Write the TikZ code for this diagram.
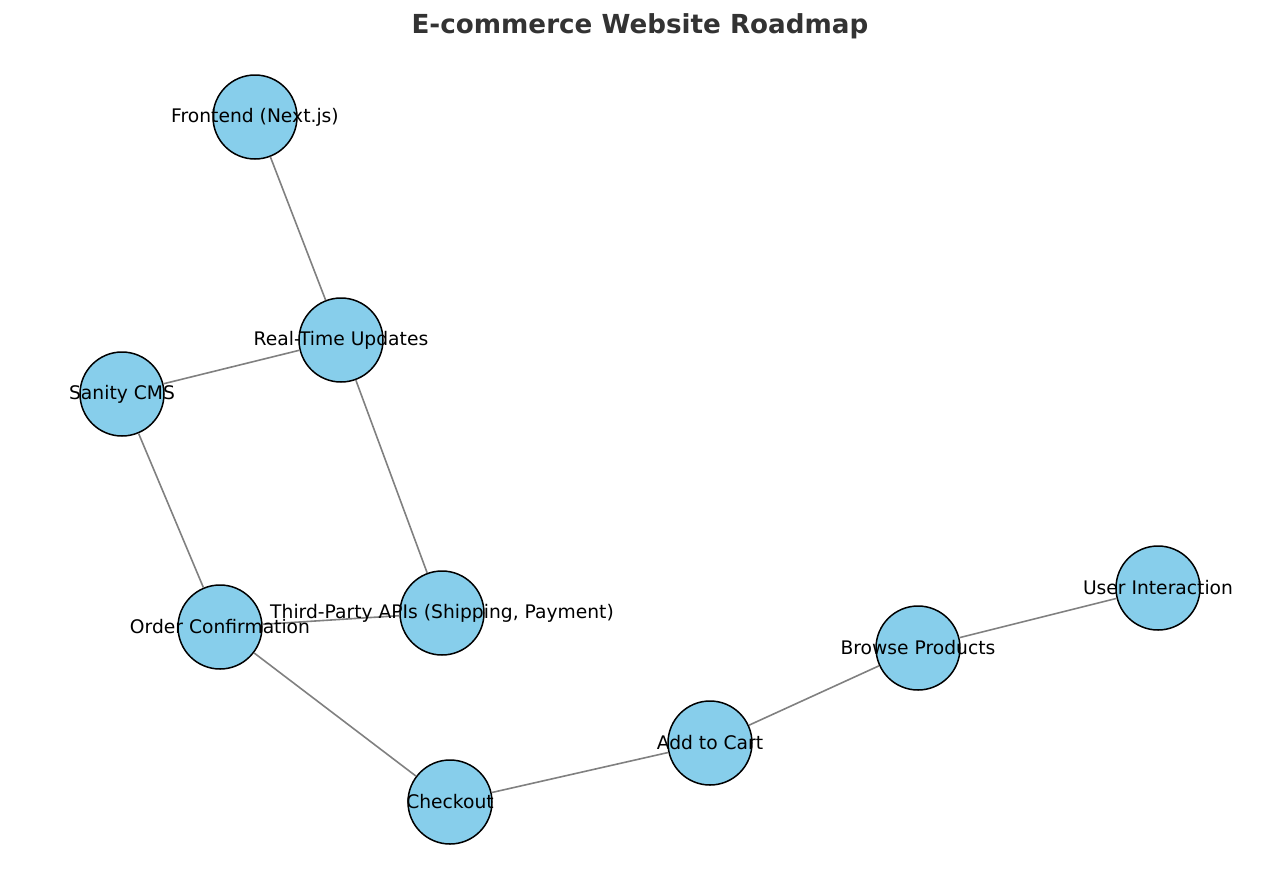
\documentclass[tikz,border=0pt]{standalone}
\usepackage{fontspec}
\setmainfont{DejaVu Sans}
\definecolor{sky}{HTML}{87CEEB}
\definecolor{edgegray}{HTML}{808080}
\definecolor{titlegray}{HTML}{333333}
\begin{document}
\begin{tikzpicture}[x=1pt,y=-1pt,
  vert/.style={circle,draw=black,fill=sky,line width=1.5pt,minimum size=84pt,inner sep=0pt},
  lbl/.style={font=\fontsize{18.7}{21}\selectfont,inner sep=0pt},
  link/.style={draw=edgegray,line width=1.6pt}]
\useasboundingbox (0,0) rectangle (1280,887);
\node[font=\bfseries\fontsize{26.2}{30}\selectfont,text=titlegray] (title) at (640,26) {E-commerce Website Roadmap};
\node[vert] (fe) at (255,117) {};
\node[vert] (rt) at (341,340) {};
\node[vert] (cms) at (122,394) {};
\node[vert] (oc) at (220,627) {};
\node[vert] (tp) at (442,613) {};
\node[vert] (co) at (450,802) {};
\node[vert] (ac) at (710,743) {};
\node[vert] (bp) at (918,648) {};
\node[vert] (ui) at (1158,588) {};
\path[link] (fe) -- (rt);
\path[link] (rt) -- (cms);
\path[link] (rt) -- (tp);
\path[link] (cms) -- (oc);
\path[link] (oc) -- (tp);
\path[link] (oc) -- (co);
\path[link] (co) -- (ac);
\path[link] (ac) -- (bp);
\path[link] (bp) -- (ui);
\node[lbl] (fe-t) at (fe.center) {Frontend (Next.js)};
\node[lbl] (rt-t) at (rt.center) {Real-Time Updates};
\node[lbl] (cms-t) at (cms.center) {Sanity CMS};
\node[lbl] (oc-t) at (oc.center) {Order Confirmation};
\node[lbl] (tp-t) at (tp.center) {Third-Party APIs (Shipping, Payment)};
\node[lbl] (co-t) at (co.center) {Checkout};
\node[lbl] (ac-t) at (ac.center) {Add to Cart};
\node[lbl] (bp-t) at (bp.center) {Browse Products};
\node[lbl] (ui-t) at (ui.center) {User Interaction};
\end{tikzpicture}
\end{document}
